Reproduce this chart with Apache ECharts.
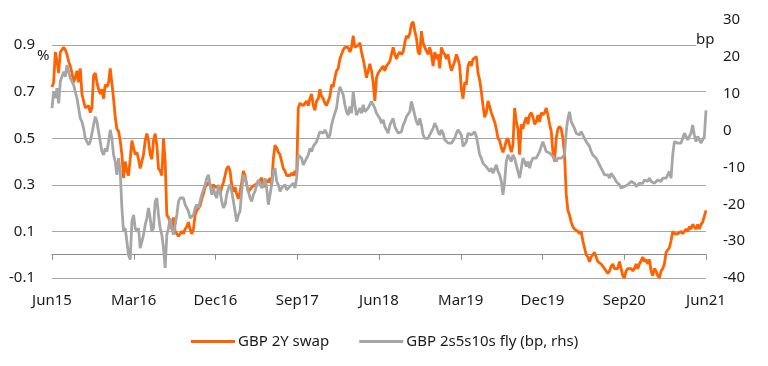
<!DOCTYPE html>
<html>
<head>
<meta charset="utf-8">
<script src="https://cdn.jsdelivr.net/npm/echarts@6/dist/echarts.min.js"></script>
<style>
html,body{margin:0;padding:0;background:#fff;}
#chart{width:768px;height:366px;}
</style>
</head>
<body>
<div id="chart"></div>
<script>
// Tick labels for the x axis (every 9 months starting Jun 2015)
const tickLabels = ['Jun15','Mar16','Dec16','Sep17','Jun18','Mar19','Dec19','Sep20','Jun21'];
// Months covered by the sample (Jun 2015 -> Jun 2021)
const spanMonths = 72;

// GBP 2Y swap, % (left axis), roughly weekly readings
const gbp2ySwap = [
 0.72,0.74,0.87,0.83,0.78,0.87,0.88,0.89,0.88,0.86,0.83,0.81,0.78,0.74,0.76,0.79,0.74,0.80,0.69,0.66,
 0.63,0.63,0.64,0.61,0.63,0.77,0.78,0.74,0.71,0.69,0.71,0.67,0.73,0.72,0.74,0.80,0.80,0.67,0.59,0.54,
 0.53,0.49,0.43,0.33,0.40,0.36,0.34,0.41,0.49,0.46,0.43,0.44,0.41,0.37,0.40,0.43,0.49,0.52,0.49,0.43,
 0.41,0.49,0.52,0.47,0.37,0.36,0.34,0.50,0.40,0.17,0.16,0.16,0.11,0.16,0.10,0.09,0.08,0.09,0.10,0.09,
 0.11,0.12,0.14,0.11,0.09,0.11,0.17,0.19,0.20,0.21,0.24,0.26,0.29,0.30,0.31,0.30,0.29,0.30,0.29,0.29,
 0.29,0.26,0.29,0.31,0.34,0.37,0.38,0.36,0.30,0.27,0.29,0.26,0.24,0.27,0.31,0.36,0.34,0.30,0.27,0.27,
 0.29,0.29,0.30,0.30,0.31,0.31,0.33,0.29,0.31,0.32,0.31,
 0.33,0.30,0.41,0.47,0.46,0.44,0.43,0.40,0.37,0.36,0.34,0.34,0.34,0.35,0.34,0.36,0.34,0.63,0.65,0.65,
 0.64,0.65,0.66,0.64,0.67,0.69,0.64,0.62,0.66,0.67,0.71,0.68,0.67,0.65,0.64,0.66,0.68,0.73,0.72,0.76,
 0.79,0.80,0.84,0.86,0.88,0.89,0.89,0.89,0.87,0.89,0.94,0.89,0.89,0.90,0.91,0.87,0.84,0.80,0.76,0.79,
 0.82,0.79,0.74,0.66,0.76,0.78,0.79,0.80,0.81,0.79,0.81,0.81,0.83,0.86,0.89,0.86,0.84,0.86,0.87,0.86,
 0.87,0.91,0.94,0.93,0.95,0.99,1.00,0.96,0.93,0.87,0.86,0.96,0.91,0.89,0.89,0.86,0.89,0.86,0.81,0.87,
 0.84,0.86,0.80,0.89,0.87,0.86,0.84,0.86,0.82,0.79,0.79,0.83,0.86,0.84,0.81,0.71,0.67,0.74,0.73,0.81,
 0.83,0.81,0.84,0.84,0.85,0.78,0.75,0.70,0.64,0.59,0.61,
 0.66,0.66,0.61,0.59,0.57,0.54,0.50,0.49,0.46,0.44,0.46,0.49,0.50,0.47,0.44,0.47,0.63,0.57,0.54,0.43,
 0.56,0.54,0.57,0.59,0.56,0.60,0.61,0.59,0.56,0.57,0.60,0.57,0.61,0.60,0.61,0.63,0.60,0.56,0.53,0.44,
 0.40,0.50,0.54,0.55,0.54,0.50,0.43,0.26,0.19,0.17,0.14,0.12,0.11,0.11,0.10,0.09,0.10,0.06,0.03,0.00,
 -0.01,-0.03,-0.01,0.00,0.01,-0.01,-0.03,-0.03,-0.04,-0.04,-0.06,-0.07,-0.08,-0.07,-0.05,-0.04,-0.06,-0.06,-0.06,-0.03,
 -0.06,-0.09,-0.10,-0.07,-0.06,-0.06,-0.06,-0.07,-0.06,-0.04,-0.06,-0.04,-0.04,-0.01,-0.03,-0.02,-0.04,-0.02,-0.07,-0.09,
 -0.06,-0.07,-0.09,-0.10,-0.07,-0.06,-0.04,0.01,0.02,0.03,0.06,0.10,0.09,0.09,0.09,0.09,0.10,0.09,0.09,0.11,
 0.10,0.12,0.11,0.13,0.12,0.11,0.13,0.11,0.13,0.14,0.14,0.19
];

// GBP 2s5s10s fly, bp (right axis), roughly weekly readings
const gbpFly = [
 6.1,10.6,8.8,11.5,7.4,13.3,13.3,16.0,14.6,17.8,16.0,14.2,14.2,12.4,10.6,8.8,6.1,3.3,2.4,0.6,
 -2.1,-1.6,-3.9,-3.0,-3.0,1.5,3.8,2.4,-0.3,-3.0,-5.7,-6.6,-4.8,-5.7,-3.0,0.2,-2.1,-6.6,-8.4,-12.0,
 -7.5,-11.1,-21.0,-27.4,-26.5,-30.1,-33.7,-35.0,-24.7,-22.9,-26.5,-27.4,-26.5,-31.9,-31.9,-28.3,-25.6,-23.8,-21.0,-23.8,
 -27.4,-26.5,-19.2,-18.3,-22.9,-26.5,-28.3,-31.9,-37.3,-28.3,-26.5,-23.8,-26.5,-28.3,-28.3,-22.9,-19.2,-18.3,-18.8,-18.3,
 -20.1,-21.0,-21.9,-23.8,-23.3,-22.9,-21.0,-20.1,-21.0,-19.2,-17.4,-17.0,-14.7,-12.9,-12.0,-14.7,-17.4,-15.6,-17.4,-18.3,
 -14.7,-16.5,-19.2,-21.0,-20.1,-17.4,-15.6,-14.7,-16.5,-19.2,-21.9,-24.7,-22.9,-21.9,-16.5,-12.0,-12.9,-14.7,-16.5,-18.3,
 -19.2,-17.4,-16.5,-14.7,-13.4,-12.9,-15.6,-14.7,-12.9,-15.6,-20.1,
 -17.4,-14.7,-11.1,-10.2,-13.8,-14.7,-16.5,-15.6,-15.6,-14.7,-16.1,-15.6,-15.2,-14.7,-14.3,-15.6,-12.9,-6.6,-7.0,-7.5,
 -9.3,-8.4,-7.5,-6.6,-4.8,-5.7,-4.3,-3.9,-3.0,-3.0,-0.3,0.2,-0.7,0.2,-0.7,-2.1,-1.2,1.5,3.3,4.7,
 6.1,9.7,11.9,11.5,9.7,7.0,5.1,4.2,6.5,4.7,10.6,7.0,4.2,5.1,6.1,4.7,7.0,5.1,5.6,6.1,
 7.0,7.9,7.4,6.1,4.7,4.2,3.3,2.0,2.9,1.1,1.5,-0.7,1.5,2.4,3.3,1.1,0.2,-0.7,-0.3,-0.3,
 1.5,2.4,3.8,4.2,5.1,7.9,6.1,4.2,2.4,1.5,3.3,1.5,-1.2,-2.1,-2.5,-2.1,-1.2,-0.3,0.6,2.0,
 1.1,-0.3,-1.2,0.2,-0.7,-2.5,-3.0,-3.4,-3.9,-3.4,-3.0,-2.1,-0.7,0.2,0.6,-1.2,-4.3,-3.9,-3.0,-0.7,
 -0.3,-1.2,-1.2,-0.3,-1.6,-3.9,-6.6,-7.5,-8.9,-9.3,-9.8,
 -9.3,-11.1,-10.2,-11.6,-12.0,-9.3,-11.1,-12.0,-13.8,-17.4,-13.8,-8.4,-6.6,-7.5,-8.4,-6.6,-7.5,-9.3,-8.9,-12.9,
 -10.2,-7.5,-8.4,-9.8,-8.4,-10.2,-8.4,-7.5,-7.0,-7.5,-6.6,-5.7,-4.3,-3.0,-4.3,-5.7,-5.2,-6.1,-5.7,-7.0,
 -7.5,-8.4,-7.5,-7.0,-7.5,-7.0,-6.6,-0.3,3.3,5.1,2.4,1.5,0.6,-0.7,-1.2,-1.2,-0.3,-0.7,-2.1,-3.0,
 -3.4,-4.3,-5.7,-6.6,-6.1,-7.5,-8.4,-9.3,-10.2,-11.1,-12.0,-12.5,-12.0,-12.9,-11.6,-11.1,-12.9,-13.8,-14.3,-14.7,
 -15.6,-16.1,-15.2,-15.6,-14.7,-14.3,-13.8,-13.8,-14.3,-15.2,-14.7,-14.3,-13.8,-14.3,-13.4,-13.4,-13.8,-12.9,-13.8,-13.4,
 -14.3,-13.8,-13.4,-13.4,-13.8,-12.9,-13.4,-12.9,-12.0,-11.1,-12.9,-6.6,-3.0,-2.5,-3.4,-3.0,-3.4,-2.1,-0.7,-1.2,
 -2.5,-3.0,-0.7,1.5,-1.2,-3.0,-1.6,-2.1,-3.4,-2.5,-1.6,5.5
];

const seriesNames = ['GBP 2Y swap', 'GBP 2s5s10s fly (bp, rhs)'];

const toPairs = arr => arr.map((v, i) => [i * spanMonths / (arr.length - 1), v]);
const xMax = spanMonths;
const tickStep = 9;

const font = 'Noto Sans';
const txt = '#1a1a1a';
const gridColor = '#a6a6a6';
const axisColor = '#8c8c8c';

const chart = echarts.init(document.getElementById('chart'), null, {renderer: 'canvas'});
chart.setOption({
  animation: false,
  backgroundColor: '#fff',
  grid: [
    {left: 52, right: 62, top: 20, bottom: 88, containLabel: false}
  ],
  legend: {
    data: seriesNames,
    left: 186, top: 329,
    icon: 'rect', itemWidth: 44, itemHeight: 3, itemGap: 30,
    textStyle: {fontFamily: font, fontSize: 15, color: txt, padding: [0,0,0,-2]}
  },
  xAxis: [
    {
      type: 'value', min: 0, max: xMax, interval: tickStep, position: 'bottom',
      axisLine: {show: false, onZero: false}, axisTick: {show: false}, splitLine: {show: false},
      axisLabel: {margin: 15, fontFamily: font, fontSize: 15, color: txt,
        formatter: v => tickLabels[Math.round(v / tickStep)] || ''}
    },
    {
      // zero line with tick marks (positioned on the left axis' zero)
      type: 'value', min: 0, max: xMax, interval: tickStep, position: 'top',
      axisLine: {show: true, onZero: true, onZeroAxisIndex: 0, lineStyle: {color: axisColor, width: 1}},
      axisTick: {show: true, inside: true, length: 5, lineStyle: {color: axisColor, width: 1}},
      axisLabel: {show: false}, splitLine: {show: false}
    }
  ],
  yAxis: [
    {
      type: 'value', min: -0.1, max: 1.0077, interval: 0.2, position: 'left',
      axisLine: {show: false, onZero: false}, axisTick: {show: false},
      splitLine: {show: true, lineStyle: {color: [gridColor,gridColor,gridColor,gridColor,gridColor,gridColor,'rgba(0,0,0,0)'], width: 1}},
      axisLabel: {margin: 17, fontFamily: font, fontSize: 15, color: txt, showMaxLabel: false,
        formatter: v => v > 0.95 ? '' : v.toFixed(1)}
    },
    {
      type: 'value', min: -40, max: 30, interval: 10, position: 'right',
      axisLine: {show: false, onZero: false}, axisTick: {show: false}, splitLine: {show: false},
      axisLabel: {margin: 17, fontFamily: font, fontSize: 15, color: txt}
    }
  ],
  graphic: [
    {type: 'text', left: 37, top: 48, style: {text: '%', font: '15px "Noto Sans"', fill: txt}},
    {type: 'text', left: 696, top: 32, z: 100, style: {text: 'bp', font: '15px "Noto Sans"', fill: txt, backgroundColor: '#fff'}}
  ],
  series: [
    {
      name: seriesNames[0], type: 'line', xAxisIndex: 0, yAxisIndex: 0,
      data: toPairs(gbp2ySwap), showSymbol: false, symbol: 'none',
      lineStyle: {color: '#FF6200', width: 2.8}, itemStyle: {color: '#FF6200'}
    },
    {
      name: seriesNames[1], type: 'line', xAxisIndex: 0, yAxisIndex: 1,
      data: toPairs(gbpFly), showSymbol: false, symbol: 'none',
      lineStyle: {color: '#A6A6A6', width: 2.8}, itemStyle: {color: '#A6A6A6'}
    },
    {
      // empty helper series so the zero-line axis is used
      name: 'zero', type: 'line', xAxisIndex: 1, yAxisIndex: 0, data: [],
      showSymbol: false, silent: true
    }
  ]
});
</script>
</body>
</html>
